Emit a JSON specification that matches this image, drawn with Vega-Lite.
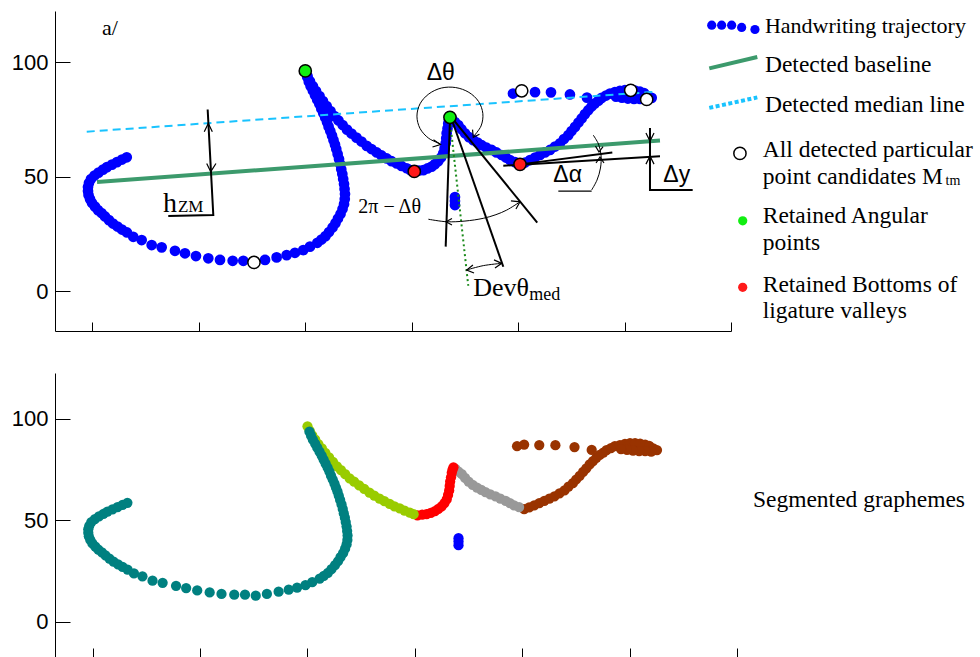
{
"$schema":"https://vega.github.io/schema/vega-lite/v6.json",
"background":"white",
"padding":{"left":11,"top":11,"right":5,"bottom":5},
"bounds":"flush",
"spacing":42,
"config":{"view":{"stroke":null},"axis":{"grid":false,"domainColor":"black","tickColor":"black","labelColor":"black","labelFont":"Liberation Sans","labelFontSize":22}},
"datasets":{
"traj":[
{"x":32.4,"y":58.5,"seg":"s1"},{"x":27.9,"y":57.5,"seg":"s1"},{"x":23.2,"y":56.4,"seg":"s1"},{"x":18.5,"y":55.3,"seg":"s1"},{"x":13.8,"y":54.2,"seg":"s1"},{"x":10.1,"y":53.1,"seg":"s1"},{"x":5.9,"y":51.8,"seg":"s1"},{"x":2.1,"y":50.5,"seg":"s1"},{"x":-1.2,"y":49.0,"seg":"s1"},{"x":-3.1,"y":47.2,"seg":"s1"},{"x":-4.0,"y":45.5,"seg":"s1"},{"x":-4.0,"y":43.7,"seg":"s1"},{"x":-3.5,"y":42.0,"seg":"s1"},{"x":-2.1,"y":40.2,"seg":"s1"},{"x":-0.2,"y":38.5,"seg":"s1"},{"x":2.6,"y":36.9,"seg":"s1"},{"x":5.4,"y":35.4,"seg":"s1"},{"x":8.7,"y":34.1,"seg":"s1"},{"x":12.0,"y":32.6,"seg":"s1"},{"x":15.7,"y":31.0,"seg":"s1"},{"x":19.5,"y":29.5,"seg":"s1"},{"x":23.7,"y":28.2,"seg":"s1"},{"x":27.9,"y":26.9,"seg":"s1"},{"x":32.6,"y":25.6,"seg":"s1"},{"x":38.5,"y":23.7,"seg":"s1"},{"x":46.4,"y":22.3,"seg":"s1"},{"x":55.8,"y":20.1,"seg":"s1"},{"x":65.2,"y":19.1,"seg":"s1"},{"x":77.7,"y":17.6,"seg":"s1"},{"x":87.1,"y":16.5,"seg":"s1"},{"x":97.4,"y":15.3,"seg":"s1"},{"x":109.0,"y":14.3,"seg":"s1"},{"x":120.0,"y":13.6,"seg":"s1"},{"x":131.9,"y":13.2,"seg":"s1"},{"x":141.9,"y":13.2,"seg":"s1"},{"x":151.9,"y":12.7,"seg":"s1"},{"x":162.3,"y":13.6,"seg":"s1"},{"x":173.2,"y":14.7,"seg":"s1"},{"x":182.6,"y":15.7,"seg":"s1"},{"x":190.4,"y":16.7,"seg":"s1"},{"x":198.2,"y":17.9,"seg":"s1"},{"x":204.5,"y":19.4,"seg":"s1"},{"x":211.4,"y":21.1,"seg":"s1"},{"x":215.3,"y":22.5,"seg":"s1"},{"x":219.1,"y":24.0,"seg":"s1"},{"x":222.4,"y":25.8,"seg":"s1"},{"x":225.7,"y":27.8,"seg":"s1"},{"x":228.5,"y":29.7,"seg":"s1"},{"x":230.8,"y":31.7,"seg":"s1"},{"x":233.2,"y":33.7,"seg":"s1"},{"x":235.1,"y":35.9,"seg":"s1"},{"x":236.5,"y":38.0,"seg":"s1"},{"x":237.2,"y":40.2,"seg":"s1"},{"x":237.4,"y":42.4,"seg":"s1"},{"x":237.0,"y":44.6,"seg":"s1"},{"x":236.5,"y":46.8,"seg":"s1"},{"x":235.7,"y":49.0,"seg":"s1"},{"x":234.9,"y":51.2,"seg":"s1"},{"x":233.9,"y":53.3,"seg":"s1"},{"x":232.9,"y":55.5,"seg":"s1"},{"x":231.8,"y":57.7,"seg":"s1"},{"x":230.5,"y":59.9,"seg":"s1"},{"x":229.2,"y":62.1,"seg":"s1"},{"x":228.0,"y":64.1,"seg":"s1"},{"x":226.6,"y":66.0,"seg":"s1"},{"x":225.2,"y":68.0,"seg":"s1"},{"x":223.6,"y":70.0,"seg":"s1"},{"x":222.0,"y":71.9,"seg":"s1"},{"x":220.5,"y":73.9,"seg":"s1"},{"x":218.8,"y":75.9,"seg":"s1"},{"x":217.0,"y":77.8,"seg":"s1"},{"x":215.1,"y":79.8,"seg":"s1"},{"x":213.3,"y":81.8,"seg":"s1"},{"x":211.3,"y":83.7,"seg":"s1"},{"x":209.2,"y":85.7,"seg":"s1"},{"x":207.2,"y":87.7,"seg":"s1"},{"x":205.1,"y":89.6,"seg":"s1"},{"x":203.4,"y":91.6,"seg":"s1"},{"x":201.9,"y":93.6,"seg":"s1"},
{"x":200.1,"y":96.2,"seg":"s2"},{"x":202.2,"y":94.0,"seg":"s2"},{"x":204.5,"y":91.8,"seg":"s2"},{"x":207.3,"y":89.6,"seg":"s2"},{"x":210.2,"y":87.5,"seg":"s2"},{"x":213.5,"y":85.3,"seg":"s2"},{"x":216.7,"y":83.1,"seg":"s2"},{"x":220.2,"y":80.9,"seg":"s2"},{"x":223.8,"y":78.7,"seg":"s2"},{"x":227.5,"y":76.5,"seg":"s2"},{"x":231.3,"y":74.6,"seg":"s2"},{"x":235.2,"y":72.6,"seg":"s2"},{"x":239.3,"y":70.6,"seg":"s2"},{"x":243.5,"y":68.9,"seg":"s2"},{"x":248.2,"y":67.1,"seg":"s2"},{"x":252.9,"y":65.4,"seg":"s2"},{"x":257.8,"y":63.5,"seg":"s2"},{"x":262.3,"y":62.1,"seg":"s2"},{"x":267.2,"y":60.6,"seg":"s2"},{"x":271.7,"y":59.3,"seg":"s2"},{"x":276.6,"y":58.0,"seg":"s2"},{"x":281.1,"y":56.8,"seg":"s2"},{"x":286.0,"y":55.8,"seg":"s2"},{"x":290.5,"y":54.7,"seg":"s2"},{"x":295.4,"y":53.7,"seg":"s2"},{"x":298.9,"y":52.9,"seg":"s2"},
{"x":302.5,"y":52.3,"seg":"s3"},{"x":306.9,"y":52.7,"seg":"s3"},{"x":311.0,"y":52.9,"seg":"s3"},{"x":314.9,"y":53.6,"seg":"s3"},{"x":318.8,"y":54.4,"seg":"s3"},{"x":321.9,"y":55.5,"seg":"s3"},{"x":325.0,"y":56.8,"seg":"s3"},{"x":327.6,"y":58.4,"seg":"s3"},{"x":329.7,"y":60.2,"seg":"s3"},{"x":331.0,"y":62.4,"seg":"s3"},{"x":332.0,"y":64.6,"seg":"s3"},{"x":332.5,"y":66.8,"seg":"s3"},{"x":332.9,"y":69.0,"seg":"s3"},{"x":333.7,"y":71.1,"seg":"s3"},{"x":334.4,"y":73.3,"seg":"s3"},{"x":335.1,"y":74.8,"seg":"s3"},{"x":336.0,"y":76.0,"seg":"s3"},
{"x":337.9,"y":75.2,"seg":"s4"},{"x":340.7,"y":73.9,"seg":"s4"},{"x":343.8,"y":72.6,"seg":"s4"},{"x":346.8,"y":70.8,"seg":"s4"},{"x":350.1,"y":69.0,"seg":"s4"},{"x":353.9,"y":67.3,"seg":"s4"},{"x":357.9,"y":66.0,"seg":"s4"},{"x":361.9,"y":64.9,"seg":"s4"},{"x":365.8,"y":63.8,"seg":"s4"},{"x":370.3,"y":62.7,"seg":"s4"},{"x":375.2,"y":61.7,"seg":"s4"},{"x":379.7,"y":60.6,"seg":"s4"},{"x":384.6,"y":59.5,"seg":"s4"},{"x":388.6,"y":58.4,"seg":"s4"},{"x":392.4,"y":57.3,"seg":"s4"},{"x":397.1,"y":56.4,"seg":"s4"},
{"x":401.8,"y":55.4,"seg":"s5"},{"x":406.5,"y":56.2,"seg":"s5"},{"x":411.2,"y":57.3,"seg":"s5"},{"x":415.9,"y":58.4,"seg":"s5"},{"x":420.6,"y":59.5,"seg":"s5"},{"x":425.3,"y":60.6,"seg":"s5"},{"x":430.0,"y":61.7,"seg":"s5"},{"x":434.7,"y":63.2,"seg":"s5"},{"x":439.4,"y":64.6,"seg":"s5"},{"x":443.1,"y":66.5,"seg":"s5"},{"x":447.2,"y":68.2,"seg":"s5"},{"x":450.2,"y":70.0,"seg":"s5"},{"x":453.5,"y":71.8,"seg":"s5"},{"x":456.7,"y":73.7,"seg":"s5"},{"x":459.7,"y":75.5,"seg":"s5"},{"x":462.8,"y":77.4,"seg":"s5"},{"x":465.9,"y":79.1,"seg":"s5"},{"x":469.0,"y":80.7,"seg":"s5"},{"x":472.2,"y":82.1,"seg":"s5"},{"x":475.5,"y":83.3,"seg":"s5"},{"x":478.5,"y":84.5,"seg":"s5"},{"x":482.6,"y":85.5,"seg":"s5"},{"x":486.3,"y":86.4,"seg":"s5"},{"x":491.0,"y":87.0,"seg":"s5"},{"x":495.7,"y":87.6,"seg":"s5"},{"x":500.4,"y":87.9,"seg":"s5"},{"x":505.1,"y":87.9,"seg":"s5"},{"x":509.8,"y":87.7,"seg":"s5"},{"x":514.5,"y":87.2,"seg":"s5"},{"x":518.3,"y":86.6,"seg":"s5"},{"x":522.0,"y":85.3,"seg":"s5"},{"x":525.5,"y":84.5,"seg":"s5"},{"x":520.1,"y":83.7,"seg":"s5"},{"x":514.5,"y":84.0,"seg":"s5"},{"x":508.9,"y":84.0,"seg":"s5"},{"x":503.2,"y":84.2,"seg":"s5"},{"x":497.6,"y":84.6,"seg":"s5"},{"x":492.0,"y":85.0,"seg":"s5"},{"x":395.2,"y":86.4,"seg":"s5"},{"x":401.8,"y":87.2,"seg":"s5"},{"x":415.9,"y":87.0,"seg":"s5"},{"x":430.9,"y":86.9,"seg":"s5"},{"x":448.7,"y":86.0,"seg":"s5"},{"x":464.7,"y":84.6,"seg":"s5"},
{"x":340.7,"y":41.1,"seg":"s6"},{"x":340.7,"y":39.4,"seg":"s6"},{"x":340.7,"y":37.6,"seg":"s6"}
],
"sym":[
{"x":151.9,"y":12.5,"k":"cand","g":"main"},{"x":403.4,"y":87.6,"k":"cand","g":"main"},{"x":505.8,"y":87.8,"k":"cand","g":"main"},{"x":520.8,"y":83.8,"k":"cand","g":"main"},{"x":200.1,"y":96.3,"k":"ang","g":"main"},{"x":336.0,"y":76.0,"k":"ang","g":"main"},{"x":302.5,"y":52.3,"k":"bot","g":"main"},{"x":401.8,"y":55.4,"k":"bot","g":"main"},{"x":608.4,"y":60.2,"k":"cand","g":"main"},
{"x":611.0,"y":30.7,"k":"ang","g":"leg"},{"x":611.0,"y":1.6,"k":"bot","g":"leg"},
{"x":581.9,"y":116.3,"k":"traj","g":"leg"},{"x":591.2,"y":116.3,"k":"traj","g":"leg"},{"x":600.6,"y":116.3,"k":"traj","g":"leg"},{"x":610.0,"y":115.3,"k":"traj","g":"leg"},{"x":622.5,"y":114.4,"k":"traj","g":"leg"}
],
"guides":[
{"id":"base","o":0,"x":4.5,"y":47.7,"k":"base"},{"id":"base","o":1,"x":533.3,"y":65.8,"k":"base"},
{"id":"lb","o":0,"x":579.6,"y":97.4,"k":"base"},{"id":"lb","o":1,"x":624.7,"y":102.4,"k":"base"},
{"id":"med","o":0,"x":-5.2,"y":69.7,"k":"med"},{"id":"med","o":1,"x":527.0,"y":87.1,"k":"med"},
{"id":"lm","o":0,"x":579.6,"y":80.1,"k":"lmed"},{"id":"lm","o":1,"x":624.7,"y":84.7,"k":"lmed"},
{"id":"gd","o":0,"x":336.0,"y":74.8,"k":"dot"},{"id":"gd","o":1,"x":353.2,"y":2.3,"k":"dot"},
{"id":"hz","o":0,"x":108.4,"y":79.4,"k":"blk"},{"id":"hz","o":1,"x":113.7,"y":33.2,"k":"blk"},{"id":"hz","o":2,"x":71.4,"y":32.8,"k":"blk"},
{"id":"lA","o":0,"x":336.0,"y":74.8,"k":"blk"},{"id":"lA","o":1,"x":332.0,"y":19.4,"k":"blk"},
{"id":"lB","o":0,"x":337.9,"y":74.8,"k":"blk"},{"id":"lB","o":1,"x":386.1,"y":10.6,"k":"blk"},
{"id":"lC","o":0,"x":338.8,"y":75.2,"k":"blk"},{"id":"lC","o":1,"x":418.0,"y":29.9,"k":"blk"},
{"id":"aL1","o":0,"x":386.1,"y":54.8,"k":"blk"},{"id":"aL1","o":1,"x":533.3,"y":59.0,"k":"blk"},
{"id":"aL2","o":0,"x":401.8,"y":55.4,"k":"blk"},{"id":"aL2","o":1,"x":488.5,"y":60.6,"k":"blk"},
{"id":"dy","o":0,"x":523.9,"y":71.3,"k":"blk"},{"id":"dy","o":1,"x":523.9,"y":44.2,"k":"blk"},{"id":"dy","o":2,"x":564.0,"y":44.2,"k":"blk"},
{"id":"dau","o":0,"x":437.8,"y":43.7,"k":"thin"},{"id":"dau","o":1,"x":469.1,"y":43.7,"k":"thin"},
{"id":"thL","o":0,"x":320.5,"y":66.2,"k":"thin"},{"id":"thL","o":1,"x":327.1,"y":64.1,"k":"thin"},{"id":"thL","o":2,"x":319.6,"y":63.0,"k":"thin"},
{"id":"thR","o":0,"x":357.2,"y":70.6,"k":"thin"},{"id":"thR","o":1,"x":357.9,"y":67.2,"k":"thin"},{"id":"thR","o":2,"x":363.7,"y":68.6,"k":"thin"},
{"id":"piL","o":0,"x":337.9,"y":31.7,"k":"thin"},{"id":"piL","o":1,"x":332.3,"y":30.3,"k":"thin"},{"id":"piL","o":2,"x":337.9,"y":28.9,"k":"thin"},
{"id":"piR","o":0,"x":393.3,"y":39.4,"k":"thin"},{"id":"piR","o":1,"x":401.8,"y":39.0,"k":"thin"},{"id":"piR","o":2,"x":398.0,"y":35.9,"k":"thin"},
{"id":"devL","o":0,"x":357.6,"y":11.4,"k":"thin"},{"id":"devL","o":1,"x":351.7,"y":9.2,"k":"thin"},{"id":"devL","o":2,"x":358.6,"y":7.9,"k":"thin"},
{"id":"devR","o":0,"x":377.4,"y":13.6,"k":"thin"},{"id":"devR","o":1,"x":384.6,"y":12.1,"k":"thin"},{"id":"devR","o":2,"x":378.3,"y":10.1,"k":"thin"},
{"id":"daD","o":0,"x":472.7,"y":63.4,"k":"thin"},{"id":"daD","o":1,"x":476.0,"y":60.8,"k":"thin"},{"id":"daD","o":2,"x":479.8,"y":63.2,"k":"thin"},
{"id":"daU","o":0,"x":473.2,"y":56.0,"k":"thin"},{"id":"daU","o":1,"x":476.9,"y":58.6,"k":"thin"},{"id":"daU","o":2,"x":480.7,"y":56.0,"k":"thin"},
{"id":"hzU","o":0,"x":105.2,"y":69.7,"k":"thin"},{"id":"hzU","o":1,"x":109.0,"y":73.3,"k":"thin"},{"id":"hzU","o":2,"x":112.8,"y":69.7,"k":"thin"},
{"id":"hzD","o":0,"x":107.5,"y":55.8,"k":"thin"},{"id":"hzD","o":1,"x":111.3,"y":52.2,"k":"thin"},{"id":"hzD","o":2,"x":116.2,"y":55.8,"k":"thin"},
{"id":"dyD","o":0,"x":520.1,"y":69.1,"k":"thin"},{"id":"dyD","o":1,"x":523.9,"y":65.6,"k":"thin"},{"id":"dyD","o":2,"x":527.7,"y":69.1,"k":"thin"},
{"id":"dyU","o":0,"x":520.1,"y":55.5,"k":"thin"},{"id":"dyU","o":1,"x":523.9,"y":59.0,"k":"thin"},{"id":"dyU","o":2,"x":527.7,"y":55.5,"k":"thin"},
{"id":"th","o":0,"x":327.0,"y":64.4,"k":"arc"},{"id":"th","o":1,"x":316.1,"y":66.8,"k":"arc"},{"id":"th","o":2,"x":307.9,"y":71.1,"k":"arc"},{"id":"th","o":3,"x":305.0,"y":76.5,"k":"arc"},{"id":"th","o":4,"x":307.9,"y":81.9,"k":"arc"},{"id":"th","o":5,"x":316.1,"y":86.2,"k":"arc"},{"id":"th","o":6,"x":328.0,"y":88.8,"k":"arc"},{"id":"th","o":7,"x":341.4,"y":89.0,"k":"arc"},{"id":"th","o":8,"x":353.8,"y":86.9,"k":"arc"},{"id":"th","o":9,"x":362.9,"y":82.9,"k":"arc"},{"id":"th","o":10,"x":366.9,"y":77.6,"k":"arc"},{"id":"th","o":11,"x":365.2,"y":72.2,"k":"arc"},{"id":"th","o":12,"x":358.3,"y":67.7,"k":"arc"},
{"id":"pi","o":0,"x":315.7,"y":31.4,"k":"arc"},{"id":"pi","o":1,"x":332.9,"y":30.3,"k":"arc"},{"id":"pi","o":2,"x":350.1,"y":30.6,"k":"arc"},{"id":"pi","o":3,"x":367.3,"y":31.8,"k":"arc"},{"id":"pi","o":4,"x":379.2,"y":33.4,"k":"arc"},{"id":"pi","o":5,"x":389.3,"y":35.4,"k":"arc"},{"id":"pi","o":6,"x":401.8,"y":39.0,"k":"arc"},
{"id":"dev","o":0,"x":351.7,"y":9.2,"k":"arc"},{"id":"dev","o":1,"x":367.3,"y":11.1,"k":"arc"},{"id":"dev","o":2,"x":384.6,"y":12.1,"k":"arc"},
{"id":"da","o":0,"x":470.6,"y":68.2,"k":"arc"},{"id":"da","o":1,"x":475.5,"y":64.3,"k":"arc"},{"id":"da","o":2,"x":477.9,"y":59.5,"k":"arc"},{"id":"da","o":3,"x":477.4,"y":53.8,"k":"arc"},{"id":"da","o":4,"x":474.1,"y":48.5,"k":"arc"},{"id":"da","o":5,"x":469.1,"y":44.2,"k":"arc"}
],
"txt":[
{"x":9.1,"y":111.9,"t":"a/","s":22,"f":"serif"},
{"x":66.4,"y":34.5,"t":"h","s":28,"f":"serif"},
{"x":80.5,"y":34.5,"t":"ZM","s":17,"f":"serif"},
{"x":249.9,"y":34.1,"t":"2π − Δθ","s":20,"f":"serif"},
{"x":357.9,"y":-2.1,"t":"Devθ","s":26,"f":"serif"},
{"x":410.5,"y":-3.9,"t":"med","s":18,"f":"serif"},
{"x":631.9,"y":112.7,"t":"Handwriting trajectory","s":22,"f":"serif"},
{"x":631.9,"y":95.9,"t":"Detected baseline","s":23.5,"f":"serif"},
{"x":631.9,"y":78.4,"t":"Detected median line","s":23.5,"f":"serif"},
{"x":629.8,"y":58.7,"t":"All detected particular","s":23.5,"f":"serif"},
{"x":629.8,"y":46.7,"t":"point candidates M","s":23.5,"f":"serif"},
{"x":801.5,"y":46.3,"t":"tm","s":14,"f":"serif"},
{"x":629.8,"y":29.6,"t":"Retained Angular","s":23.5,"f":"serif"},
{"x":629.8,"y":17.9,"t":"points","s":23.5,"f":"serif"},
{"x":629.8,"y":-0.3,"t":"Retained Bottoms of","s":23.5,"f":"serif"},
{"x":629.8,"y":-11.8,"t":"ligature valleys","s":23.5,"f":"serif"},
{"x":314.1,"y":92.3,"t":"Δθ","s":23,"f":"sans"},
{"x":433.1,"y":47.7,"t":"Δα","s":23,"f":"sans"},
{"x":536.4,"y":47.8,"t":"Δy","s":23,"f":"sans"}
]
},
"vconcat":[
{
"width":676,"height":320,
"encoding":{
"x":{"field":"x","type":"quantitative","title":null,"scale":{"domain":[-35,600],"nice":false,"zero":false},"axis":{"values":[0,100,200,300,400,500,600],"labels":false,"tickSize":-9}},
"y":{"field":"y","type":"quantitative","title":null,"scale":{"domain":[-17.5,122.5],"nice":false,"zero":false},"axis":{"values":[0,50,100],"tickSize":-15,"labelPadding":22}}
},
"layer":[
{"data":{"name":"traj"},"mark":{"type":"circle","size":115,"opacity":1,"color":"#0000ff"}},
{"data":{"name":"guides"},"transform":[{"filter":"datum.k=='base'"}],"mark":{"type":"line","color":"#3c9a6c","strokeWidth":4},"encoding":{"detail":{"field":"id","type":"nominal"},"order":{"field":"o","type":"quantitative"}}},
{"data":{"name":"guides"},"transform":[{"filter":"datum.k=='med'"}],"mark":{"type":"line","color":"#19c3ff","strokeWidth":2,"strokeDash":[8,5]},"encoding":{"detail":{"field":"id","type":"nominal"},"order":{"field":"o","type":"quantitative"}}},
{"data":{"name":"guides"},"transform":[{"filter":"datum.k=='lmed'"}],"mark":{"type":"line","color":"#19c3ff","strokeWidth":4,"strokeDash":[4,2.5]},"encoding":{"detail":{"field":"id","type":"nominal"},"order":{"field":"o","type":"quantitative"}}},
{"data":{"name":"guides"},"transform":[{"filter":"datum.k=='dot'"}],"mark":{"type":"line","color":"#1a8a1a","strokeWidth":2,"strokeDash":[2,3]},"encoding":{"detail":{"field":"id","type":"nominal"},"order":{"field":"o","type":"quantitative"}}},
{"data":{"name":"guides"},"transform":[{"filter":"datum.k=='blk'"}],"mark":{"type":"line","color":"black","strokeWidth":2},"encoding":{"detail":{"field":"id","type":"nominal"},"order":{"field":"o","type":"quantitative"}}},
{"data":{"name":"guides"},"transform":[{"filter":"datum.k=='thin'"}],"mark":{"type":"line","color":"black","strokeWidth":1.2},"encoding":{"detail":{"field":"id","type":"nominal"},"order":{"field":"o","type":"quantitative"}}},
{"data":{"name":"guides"},"transform":[{"filter":"datum.k=='arc'"}],"mark":{"type":"line","color":"black","strokeWidth":1,"interpolate":"catmull-rom"},"encoding":{"detail":{"field":"id","type":"nominal"},"order":{"field":"o","type":"quantitative"}}},
{"data":{"name":"sym"},"transform":[{"filter":"datum.g=='main'"}],"mark":{"type":"circle","size":150,"opacity":1,"stroke":"black","strokeWidth":1.5},"encoding":{"fill":{"field":"k","type":"nominal","scale":{"domain":["cand","ang","bot","traj"],"range":["#ffffff","#11ee11","#ff1a1a","#0000ff"]},"legend":null}}},
{"data":{"name":"sym"},"transform":[{"filter":"datum.g=='leg'"}],"mark":{"type":"circle","size":85,"opacity":1},"encoding":{"fill":{"field":"k","type":"nominal","scale":{"domain":["cand","ang","bot","traj"],"range":["#ffffff","#11ee11","#ff1a1a","#0000ff"]},"legend":null}}},
{"data":{"name":"txt"},"transform":[{"filter":"datum.f=='serif'"}],"mark":{"type":"text","font":"Liberation Serif","align":"left","baseline":"alphabetic","color":"black"},"encoding":{"text":{"field":"t","type":"nominal"},"size":{"field":"s","type":"quantitative","scale":null}}},
{"data":{"name":"txt"},"transform":[{"filter":"datum.f=='sans'"}],"mark":{"type":"text","font":"Liberation Sans","align":"left","baseline":"alphabetic","color":"black"},"encoding":{"text":{"field":"t","type":"nominal"},"size":{"field":"s","type":"quantitative","scale":null}}}
]
},
{
"width":682,"height":284,
"encoding":{
"x":{"field":"x","type":"quantitative","title":null,"scale":{"domain":[-35,600],"nice":false,"zero":false},"axis":{"values":[0,100,200,300,400,500,600],"labels":false,"tickSize":-9}},
"y":{"field":"y","type":"quantitative","title":null,"scale":{"domain":[-17.5,122.5],"nice":false,"zero":false},"axis":{"values":[0,50,100],"tickSize":-15,"labelPadding":22}}
},
"layer":[
{"data":{"name":"traj"},"mark":{"type":"circle","size":105,"opacity":1},"encoding":{"color":{"field":"seg","type":"nominal","scale":{"domain":["s1","s2","s3","s4","s5","s6"],"range":["#008080","#99cc00","#ff0000","#999999","#993300","#0000ff"]},"legend":null},"order":{"field":"seg","sort":"descending"}}},
{"data":{"values":[{"x":614.8,"y":56.4,"t":"Segmented graphemes"}]},"mark":{"type":"text","font":"Liberation Serif","fontSize":23.5,"align":"left","baseline":"alphabetic","color":"black"},"encoding":{"text":{"field":"t","type":"nominal"}}}
]
}
]
}
